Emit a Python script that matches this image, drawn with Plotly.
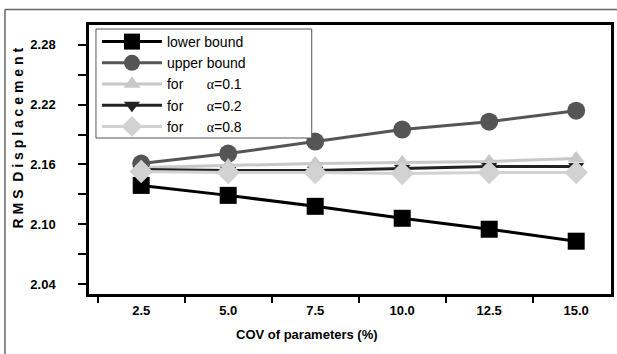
import plotly.graph_objects as go

# COV of parameters (%)
cov = [2.5, 5.0, 7.5, 10.0, 12.5, 15.0]

# RMS displacement for each bound / alpha value
lower_bound = [2.139, 2.129, 2.118, 2.106, 2.095, 2.083]
upper_bound = [2.161, 2.171, 2.183, 2.195, 2.203, 2.214]
alpha_01 = [2.157, 2.159, 2.161, 2.162, 2.163, 2.166]
alpha_02 = [2.155, 2.154, 2.154, 2.156, 2.158, 2.158]
alpha_08 = [2.153, 2.152, 2.152, 2.151, 2.152, 2.152]

x_ticks = [2.5, 5.0, 7.5, 10.0, 12.5, 15.0]
x_tick_text = ["2.5", "5.0", "7.5", "10.0", "12.5", "15.0"]
y_ticks = [2.04, 2.10, 2.16, 2.22, 2.28]
y_tick_text = ["2.04", "2.10", "2.16", "2.22", "2.28"]

FONT = "Arial, Liberation Sans, sans-serif"
ALPHA = "<span style='font-family:Liberation Serif, Times New Roman, serif'>α</span>"
SP = "&nbsp;" * 6

series = [
    ("lower bound", lower_bound, "#000000", "square", 17),
    ("upper bound", upper_bound, "#555555", "circle", 18),
    (f"for{SP}{ALPHA}=0.1", alpha_01, "#c8c8c8", "triangle-up", 15),
    (f"for{SP}{ALPHA}=0.2", alpha_02, "#222222", "triangle-down", 14),
    (f"for{SP}{ALPHA}=0.8", alpha_08, "#d2d2d2", "diamond", 18),
]

fig = go.Figure()
for name, vals, color, symbol, size in series:
    fig.add_trace(go.Scatter(
        x=cov, y=vals, name=name, mode="lines+markers",
        line=dict(color=color, width=3),
        marker=dict(symbol=symbol, size=size, color=color),
    ))

L, R, T, B = 89, 3, 25, 60
W, H = 617, 354
pw, ph = W - L - R, H - T - B


def px(xp):
    return (xp - L) / pw


def py(yp):
    return (H - B - yp) / ph


fig.update_layout(
    width=W, height=H,
    margin=dict(l=L, r=R, t=T, b=B),
    paper_bgcolor="white", plot_bgcolor="white",
    font=dict(family=FONT, color="black"),
    showlegend=True,
    legend=dict(
        x=px(97), y=py(26), xanchor="left", yanchor="top",
        bgcolor="rgba(0,0,0,0)", borderwidth=0,
        font=dict(size=14, family=FONT, color="black"),
        itemwidth=60, tracegroupgap=0,
    ),
    xaxis=dict(
        range=[1.0, 16.0],
        tickvals=x_ticks, ticktext=x_tick_text,
        ticks="", showgrid=False, zeroline=False,
        showline=True, linecolor="black", linewidth=2.5, mirror=True,
        tickfont=dict(size=13, weight="bold", family=FONT),
        ticklabelstandoff=3,
        minor=dict(tickvals=[1.25, 3.75, 6.25, 8.75, 11.25, 13.75],
                   ticks="outside", ticklen=6, tickwidth=2, tickcolor="black",
                   showgrid=False),
    ),
    yaxis=dict(
        range=[2.03, 2.30],
        tickvals=y_ticks, ticktext=y_tick_text,
        ticks="outside", ticklen=8, tickwidth=2, tickcolor="black",
        showgrid=False, zeroline=False,
        showline=True, linecolor="black", linewidth=2.5, mirror=True,
        tickfont=dict(size=13, weight="bold", family=FONT),
        ticklabelstandoff=20,
        minor=dict(tickvals=[2.07, 2.13, 2.19, 2.25],
                   ticks="outside", ticklen=8, tickwidth=2, tickcolor="black",
                   showgrid=False),
    ),
    annotations=[
        dict(text="<b>R M S&nbsp;&nbsp;D i s p l a c e m e n t</b>",
             xref="paper", yref="paper", x=px(18), y=py(138),
             xanchor="center", yanchor="middle", textangle=-90,
             showarrow=False, font=dict(size=14, family=FONT)),
        dict(text="<b>COV of parameters (%)</b>",
             xref="paper", yref="paper", x=px(308), y=py(334),
             xanchor="center", yanchor="middle",
             showarrow=False, font=dict(size=13, family=FONT)),
    ],
    shapes=[
        # outer frame edges
        dict(type="line", xref="paper", yref="paper",
             x0=px(4.5), x1=px(4.5), y0=py(9.5), y1=py(360),
             line=dict(color="#666666", width=1.5)),
        dict(type="line", xref="paper", yref="paper",
             x0=px(4.5), x1=px(620), y0=py(9.5), y1=py(9.5),
             line=dict(color="#666666", width=1.5)),
        # legend box
        dict(type="rect", xref="paper", yref="paper", layer="above",
             x0=px(96), x1=px(313), y0=py(29), y1=py(138),
             fillcolor="white", line=dict(color="#555555", width=1)),
    ],
)

fig.write_html("out.html")
